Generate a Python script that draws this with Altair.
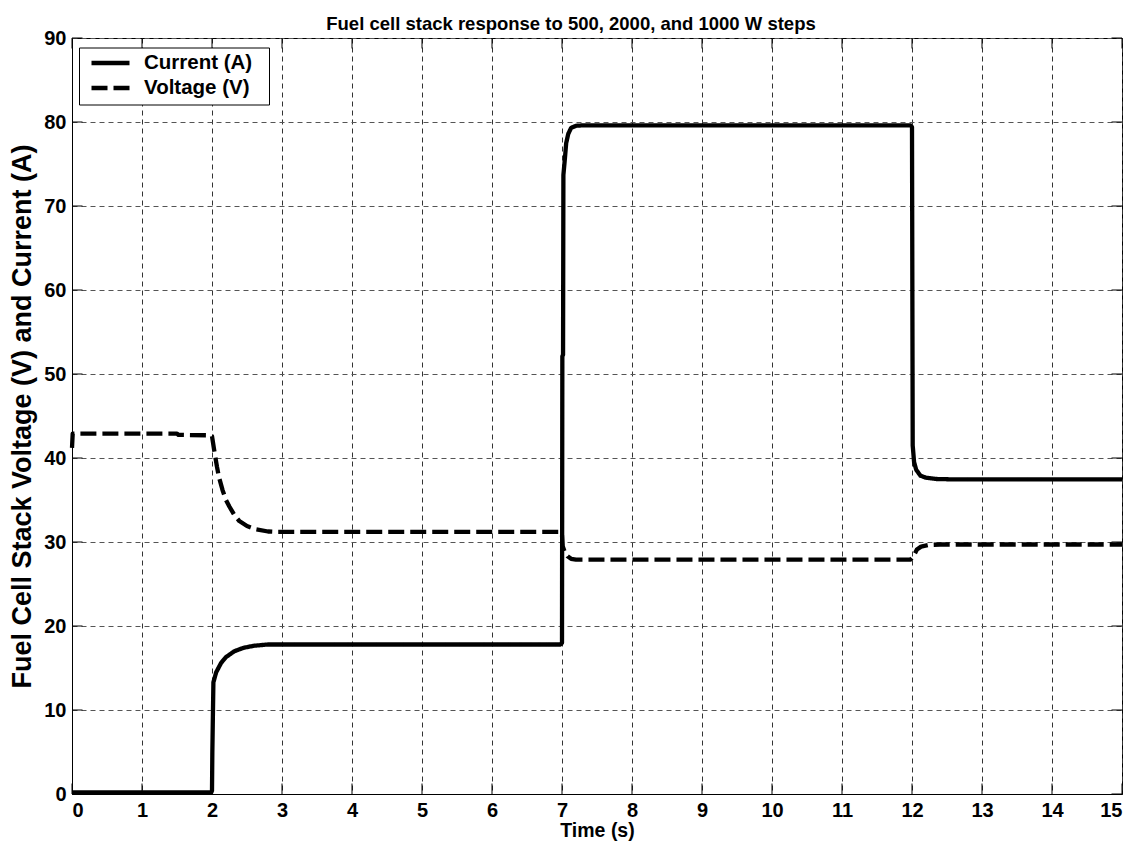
import altair as alt
import pandas as pd

# Current (A) trace: time (s), value
cur_t = [0.0, 1.99, 2.0, 2.005, 2.02, 2.06, 2.13, 2.2, 2.32, 2.45, 2.6, 2.8, 6.98, 7.0, 7.005, 7.015, 7.02, 7.04, 7.06, 7.09, 7.13, 7.2, 7.3, 11.98, 12.0, 12.01, 12.03, 12.06, 12.12, 12.2, 12.35, 12.6, 15.0]
cur_v = [0.2, 0.2, 0.4, 5.0, 13.3, 14.5, 15.6, 16.3, 17.0, 17.4, 17.65, 17.8, 17.8, 18.0, 52.1, 52.3, 73.7, 75.5, 77.5, 78.6, 79.3, 79.55, 79.6, 79.6, 79.4, 41.5, 39.5, 38.6, 37.9, 37.65, 37.5, 37.45, 37.45]

# Voltage (V) trace
vol_t = [0.0, 0.01, 1.5, 1.52, 1.98, 2.0, 2.03, 2.07, 2.1, 2.15, 2.2, 2.25, 2.32, 2.39, 2.5, 2.63, 2.8, 2.92, 6.98, 7.0, 7.01, 7.04, 7.08, 7.13, 7.2, 11.98, 12.02, 12.07, 12.13, 12.24, 12.4, 15.0]
vol_v = [41.2, 42.9, 42.9, 42.75, 42.7, 42.6, 41.0, 39.0, 37.7, 36.2, 35.0, 34.2, 33.2, 32.5, 31.9, 31.5, 31.25, 31.2, 31.2, 30.8, 29.5, 28.8, 28.3, 28.0, 27.9, 27.9, 28.3, 29.1, 29.45, 29.65, 29.7, 29.7]

series_names = ["Current (A)", "Voltage (V)"]
x_ticks = list(range(0, 16))
y_ticks = list(range(0, 100, 10))

rows = []
for i, (t, v) in enumerate(zip(cur_t, cur_v)):
    rows.append({"t": t, "v": v, "series": series_names[0], "idx": i})
for i, (t, v) in enumerate(zip(vol_t, vol_v)):
    rows.append({"t": t, "v": v, "series": series_names[1], "idx": i})
df = pd.DataFrame(rows)

W, H = 1050, 756
FONT = "Liberation Sans"
DASH = [16, 6]

xscale = alt.Scale(domain=[0, 15], nice=False, zero=False)
yscale = alt.Scale(domain=[0, 90], nice=False)

lines = alt.Chart(df).mark_line(strokeWidth=4.3, color="black", strokeCap="butt", strokeJoin="round").encode(
    x=alt.X("t:Q", scale=xscale,
            axis=alt.Axis(values=x_ticks, title="Time (s)", grid=True, gridDash=[5, 4], gridColor="#333333",
                          gridOpacity=1, gridWidth=1, tickSize=0, labelPadding=6, titlePadding=1, format="d")),
    y=alt.Y("v:Q", scale=yscale,
            axis=alt.Axis(values=y_ticks, title="Fuel Cell Stack Voltage (V) and Current (A)", grid=True,
                          gridDash=[5, 4], gridColor="#555555", gridOpacity=1, gridWidth=1, tickSize=0,
                          labelPadding=6, titlePadding=7, titleFontSize=27, format="d")),
    strokeDash=alt.StrokeDash("series:N", scale=alt.Scale(domain=series_names, range=[[1, 0], DASH]),
                              legend=None),
    detail="series:N",
    order="idx:Q",
)

xt = pd.DataFrame({"t": x_ticks})
yt = pd.DataFrame({"v": y_ticks})
tick_len = 10.5
xb = alt.Chart(xt).mark_rule(color="black", strokeWidth=1).encode(
    x=alt.X("t:Q", scale=xscale), y=alt.value(H), y2=alt.value(H - tick_len))
xtop = alt.Chart(xt).mark_rule(color="black", strokeWidth=1).encode(
    x=alt.X("t:Q", scale=xscale), y=alt.value(0), y2=alt.value(tick_len))
yl = alt.Chart(yt).mark_rule(color="black", strokeWidth=1).encode(
    y=alt.Y("v:Q", scale=yscale), x=alt.value(0), x2=alt.value(tick_len))
yr = alt.Chart(yt).mark_rule(color="black", strokeWidth=1).encode(
    y=alt.Y("v:Q", scale=yscale), x=alt.value(W), x2=alt.value(W - tick_len))

# manual legend (box, symbols, labels)
leg_df = pd.DataFrame({"s": series_names})
leg_box = alt.Chart(leg_df.head(1)).mark_rect(fill="white", stroke="black", strokeWidth=1).encode(
    x=alt.value(7.5), x2=alt.value(197.5), y=alt.value(10), y2=alt.value(67))
leg_sym1 = alt.Chart(leg_df.head(1)).mark_rule(color="black", strokeWidth=4.3).encode(
    x=alt.value(19.5), x2=alt.value(57.5), y=alt.value(25))
leg_sym2 = alt.Chart(leg_df.head(1)).mark_rule(color="black", strokeWidth=4.3, strokeDash=DASH).encode(
    x=alt.value(19.5), x2=alt.value(57.5), y=alt.value(50))
leg_txt1 = alt.Chart(leg_df.iloc[[0]]).mark_text(align="left", baseline="middle", font=FONT, fontSize=20.5,
                                                  fontWeight="bold", color="black").encode(
    text="s:N", x=alt.value(72), y=alt.value(25))
leg_txt2 = alt.Chart(leg_df.iloc[[1]]).mark_text(align="left", baseline="middle", font=FONT, fontSize=20.5,
                                                  fontWeight="bold", color="black").encode(
    text="s:N", x=alt.value(72), y=alt.value(50))

chart = alt.layer(xb, xtop, yl, yr, lines, leg_box, leg_sym1, leg_sym2, leg_txt1, leg_txt2).properties(
    width=W, height=H,
    title=alt.TitleParams("Fuel cell stack response to 500, 2000, and 1000 W steps", font=FONT, fontSize=18.5,
                          fontWeight="bold", anchor="middle", offset=-5, dx=-26, color="black"),
    autosize=alt.AutoSizeParams(type="none"),
    padding={"left": 64, "top": 30, "right": 14, "bottom": 47},
).configure(background="white").configure_view(stroke="black", strokeWidth=1).configure_axis(
    labelFont=FONT, labelFontSize=20, labelFontWeight="bold", labelColor="black",
    titleFont=FONT, titleFontSize=19.5, titleFontWeight="bold", titleColor="black",
    domainColor="black", domainWidth=1,
)

chart.save("out.html", embed_options={"renderer": "svg", "actions": False})
